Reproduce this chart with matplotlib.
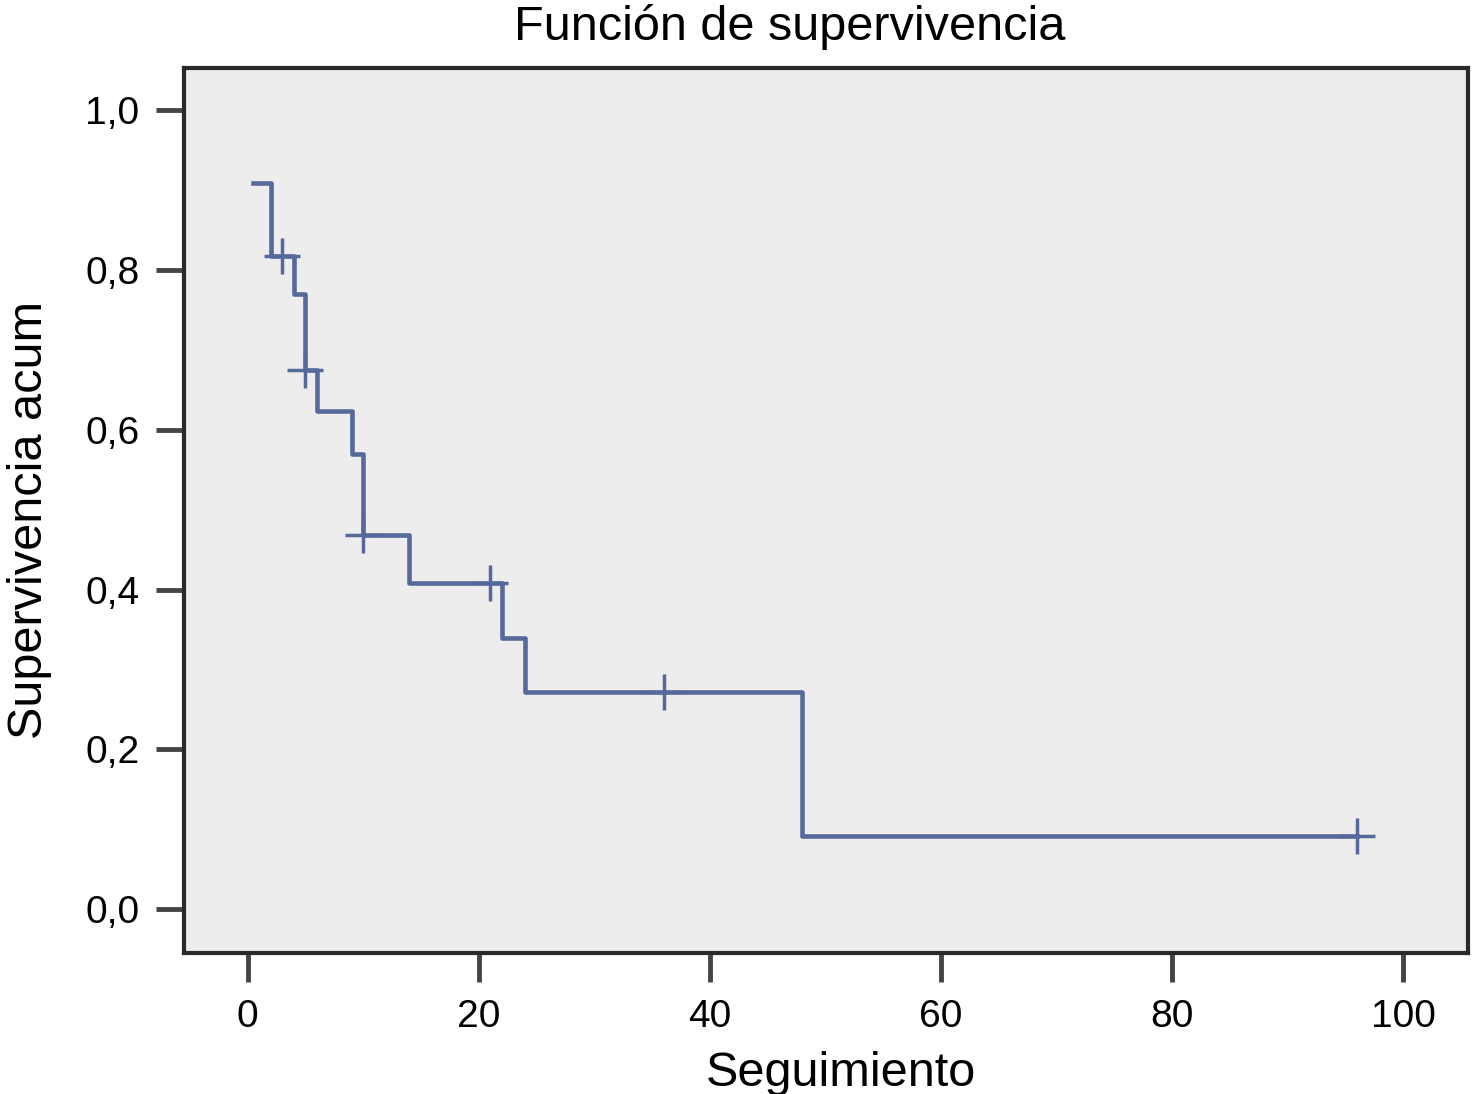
# Kaplan-Meier style survival curve
import matplotlib
matplotlib.use('Agg')
import matplotlib.pyplot as plt
from matplotlib.ticker import FuncFormatter

plt.rcParams['font.family'] = ['Liberation Sans', 'DejaVu Sans']

# step times and survival values
times = [0.5, 2, 4, 5, 6, 9, 10, 14, 22, 24, 48, 96]
surv = [0.909, 0.818, 0.770, 0.675, 0.624, 0.570, 0.468, 0.408, 0.340, 0.272, 0.091, 0.091]
# censored observations
cens_t = [3, 5, 10, 21, 36, 96]
cens_s = [0.818, 0.675, 0.468, 0.408, 0.272, 0.091]

xticks = [0, 20, 40, 60, 80, 100]
yticks = [0.0, 0.2, 0.4, 0.6, 0.8, 1.0]

fig = plt.figure(figsize=(14.75, 10.94), dpi=100)
ax = fig.add_axes([0.1247, 0.1289, 0.8706, 0.8089])
ax.set_facecolor('#ededed')

col = '#56699a'
ax.step(times, surv, where='post', color=col, lw=3.3)
ax.plot(cens_t, cens_s, ls='none', marker='+', ms=26, mew=2.5, color=col)

ax.set_xlim(-5.5, 105.6)
ax.set_ylim(-0.055, 1.053)
ax.set_xticks(xticks)
ax.set_yticks(yticks)
ax.yaxis.set_major_formatter(FuncFormatter(lambda v, p: f'{v:.1f}'.replace('.', ',')))

for s in ax.spines.values():
    s.set_linewidth(3)
    s.set_color('#2a2a2a')
ax.tick_params(axis='both', labelsize=28, color='#444444', width=3.5)
ax.tick_params(axis='y', length=20, pad=12)
ax.tick_params(axis='x', length=21, pad=12)

ax.set_title('Función de supervivencia', fontsize=35, pad=20, x=0.472)
ax.set_xlabel('Seguimiento', fontsize=35, labelpad=12, x=0.512)
ax.set_ylabel('Supervivencia acum', fontsize=35, labelpad=24, y=0.489)

fig.savefig('out.png', dpi=100)
